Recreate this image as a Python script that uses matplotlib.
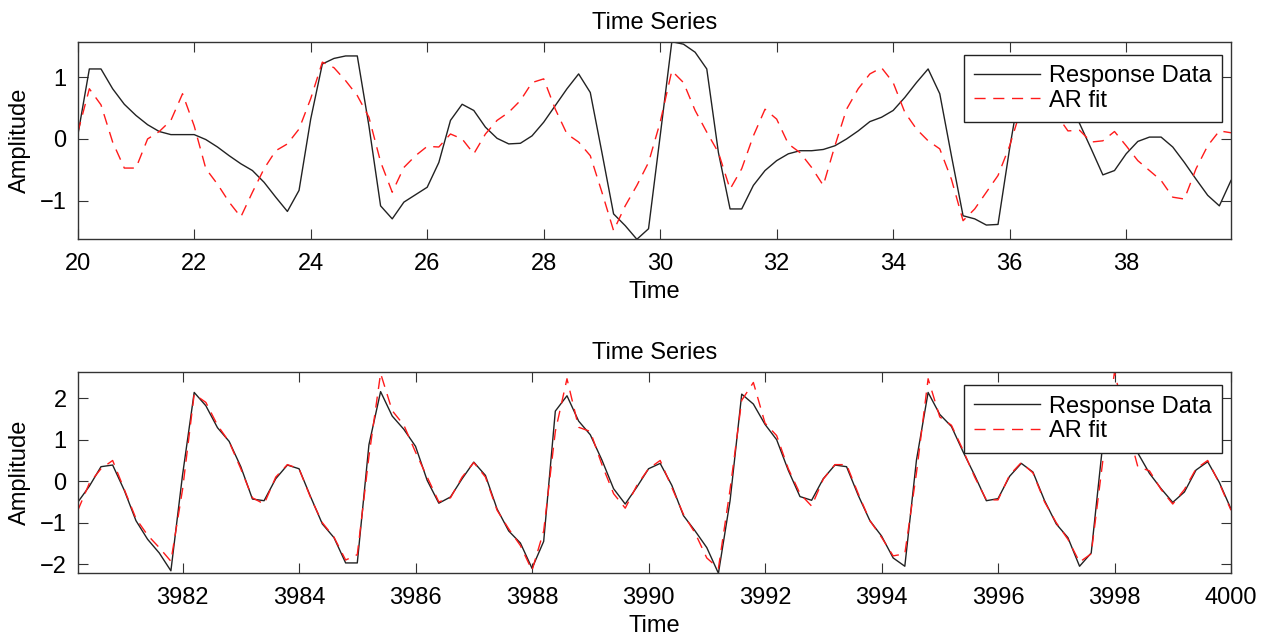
import numpy as np
import matplotlib
matplotlib.use('Agg')
import matplotlib.pyplot as plt

plt.rcParams['font.family'] = ['Liberation Sans', 'DejaVu Sans']

## data: samples every 0.2 time units
t_start_top = 20.0
t_start_bot = 3980.2
dt = 0.2

resp_top = [0.05, 1.13, 1.13, 0.81, 0.56, 0.38, 0.23, 0.12, 0.07, 0.07,
            0.07, -0.01, -0.13, -0.27, -0.40, -0.51, -0.70, -0.94, -1.17, -0.83,
            0.32, 1.21, 1.30, 1.34, 1.34, 0.21, -1.08, -1.29, -1.02, -0.90,
            -0.78, -0.38, 0.30, 0.56, 0.46, 0.19, 0.01, -0.08, -0.07, 0.05,
            0.27, 0.54, 0.81, 1.05, 0.75, -0.22, -1.21, -1.40, -1.62, -1.45,
            0.05, 1.57, 1.53, 1.40, 1.13, -0.22, -1.13, -1.13, -0.75, -0.51,
            -0.35, -0.24, -0.19, -0.19, -0.17, -0.11, 0.00, 0.13, 0.28, 0.35,
            0.46, 0.67, 0.91, 1.13, 0.73, -0.27, -1.24, -1.29, -1.39, -1.38,
            -0.15, 0.95, 1.25, 1.15, 0.90, 0.60, 0.25, -0.16, -0.58, -0.51,
            -0.24, -0.04, 0.03, 0.03, -0.13, -0.38, -0.65, -0.91, -1.08, -0.67]

fit_top = [0.10, 0.81, 0.55, -0.05, -0.47, -0.47, 0.00, 0.12, 0.30, 0.73,
           0.21, -0.48, -0.73, -1.02, -1.26, -0.86, -0.48, -0.19, -0.08, 0.16,
           0.65, 1.24, 1.15, 0.94, 0.70, 0.35, -0.37, -0.86, -0.46, -0.27,
           -0.12, -0.13, 0.08, 0.00, -0.24, 0.08, 0.30, 0.43, 0.62, 0.91,
           0.97, 0.48, 0.08, -0.05, -0.27, -0.86, -1.48, -1.08, -0.75, -0.38,
           0.27, 1.10, 0.91, 0.46, 0.11, -0.22, -0.81, -0.48, 0.05, 0.48,
           0.32, -0.08, -0.22, -0.46, -0.75, -0.11, 0.48, 0.81, 1.05, 1.15,
           0.91, 0.43, 0.16, -0.03, -0.16, -0.65, -1.32, -1.13, -0.86, -0.59,
           -0.11, 0.50, 0.80, 0.70, 0.40, 0.13, 0.14, -0.05, -0.03, 0.12,
           -0.11, -0.35, -0.51, -0.67, -0.94, -0.97, -0.48, -0.11, 0.13, 0.10]

resp_bot = [-0.51, -0.12, 0.35, 0.39, -0.22, -0.95, -1.40, -1.73, -2.16, 0.15,
            2.14, 1.82, 1.29, 0.96, 0.35, -0.43, -0.47, 0.06, 0.39, 0.30,
            -0.38, -1.03, -1.36, -1.97, -1.97, 0.88, 2.16, 1.57, 1.25, 0.84,
            0.02, -0.53, -0.38, 0.06, 0.46, 0.14, -0.67, -1.20, -1.49, -2.10,
            -1.45, 1.69, 2.06, 1.45, 1.12, 0.51, -0.18, -0.55, -0.14, 0.30,
            0.43, -0.10, -0.83, -1.20, -1.60, -2.22, -0.47, 2.10, 1.86, 1.37,
            1.00, 0.26, -0.37, -0.46, 0.06, 0.39, 0.35, -0.34, -0.95, -1.32,
            -1.85, -2.05, 0.51, 2.14, 1.61, 1.32, 0.71, 0.14, -0.47, -0.42,
            0.12, 0.43, 0.22, -0.47, -1.03, -1.36, -2.05, -1.73, 0.92, 2.10,
            1.50, 0.68, 0.19, -0.18, -0.51, -0.26, 0.27, 0.47, -0.03, -0.67]

fit_bot = [-0.71, -0.05, 0.30, 0.50, -0.20, -0.90, -1.30, -1.60, -1.93, -0.20,
           2.10, 1.90, 1.35, 0.95, 0.30, -0.40, -0.55, 0.10, 0.40, 0.30,
           -0.40, -1.00, -1.35, -1.90, -1.77, 0.60, 2.60, 1.70, 1.35, 0.70,
           0.10, -0.50, -0.40, 0.10, 0.45, 0.10, -0.70, -1.15, -1.55, -2.15,
           -1.20, 1.20, 2.47, 1.30, 1.20, 0.40, -0.30, -0.65, -0.10, 0.30,
           0.50, -0.15, -0.80, -1.25, -1.85, -2.10, -0.20, 1.95, 2.38, 1.40,
           1.10, 0.30, -0.30, -0.60, 0.05, 0.40, 0.40, -0.30, -0.95, -1.35,
           -1.80, -1.75, 0.20, 2.47, 1.55, 1.35, 0.75, 0.10, -0.45, -0.45,
           0.15, 0.45, 0.20, -0.50, -1.00, -1.40, -1.95, -1.75, 0.50, 2.64,
           1.40, 0.35, 0.25, -0.20, -0.55, -0.20, 0.30, 0.50, -0.05, -0.70]

top_xticks = [20, 22, 24, 26, 28, 30, 32, 34, 36, 38]
bot_xticks = [3982, 3984, 3986, 3988, 3990, 3992, 3994, 3996, 3998, 4000]
top_yticks = [-1, 0, 1]
bot_yticks = [-2, -1, 0, 1, 2]

FS = 17
W, H = 1266, 637

fig = plt.figure(figsize=(W / 100, H / 100), dpi=100)
ax1 = fig.add_axes([77.7 / W, 1 - 239.3 / H, (1231 - 77.7) / W, (239.3 - 41.7) / H])
ax2 = fig.add_axes([77.7 / W, 1 - 573.3 / H, (1231 - 77.7) / W, (573.3 - 371.7) / H])

panels = [(ax1, t_start_top, resp_top, fit_top, top_xticks, top_yticks),
          (ax2, t_start_bot, resp_bot, fit_bot, bot_xticks, bot_yticks)]

for ax, t0, resp, fit, xt, yt in panels:
    t = t0 + dt * np.arange(len(resp))
    ax.plot(t, resp, color='#222222', lw=1.0, label='Response Data')
    ax.plot(t, fit, color='#ff1a1a', lw=1.0, dashes=(8, 5.5), label='AR fit')

    # tight axes like matlab
    ax.set_xlim(t[0], t[-1])
    allv = np.concatenate([resp, fit])
    ax.set_ylim(allv.min(), allv.max())
    ax.set_xticks(xt)
    ax.set_yticks(yt)

    ax.set_title('Time Series', fontsize=FS, pad=9)
    ax.set_xlabel('Time', fontsize=FS, labelpad=4)
    ax.set_ylabel('Amplitude', fontsize=FS, labelpad=6)
    ax.tick_params(direction='in', length=7, width=0.8, top=True, right=True,
                   labelsize=FS, color='#333333')
    ax.tick_params(axis='x', pad=10)
    ax.tick_params(axis='y', pad=8)
    for sp in ax.spines.values():
        sp.set_color('#333333')
        sp.set_linewidth(1.0)

    leg = ax.legend(loc='upper right', bbox_to_anchor=(1 - 9 / 1153.3, 1 - 13 / 198.0),
                    borderaxespad=0, fancybox=False, edgecolor='#222222', framealpha=1,
                    fontsize=FS, handlelength=2.8, handletextpad=0.35,
                    labelspacing=0.1, borderpad=0.45)
    leg.get_frame().set_linewidth(1.0)

fig.savefig('out.png', dpi=100)
